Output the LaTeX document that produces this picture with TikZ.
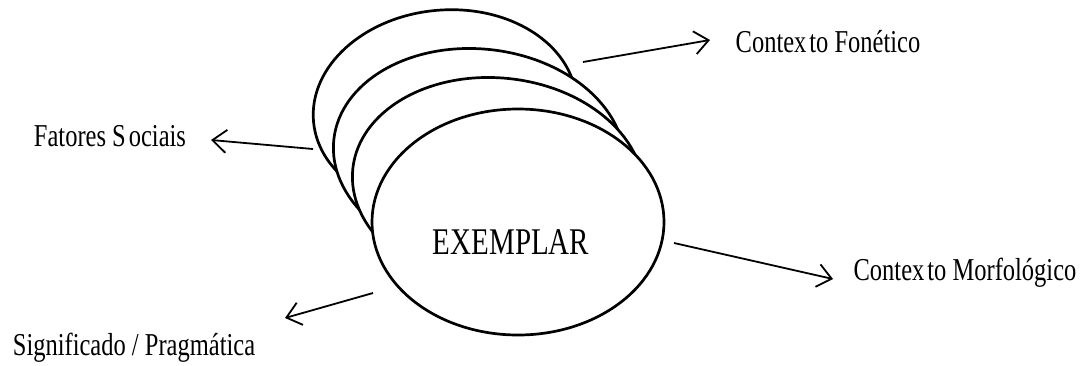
\documentclass[tikz,border=0pt]{standalone}
\usepackage{fontspec}
\setmainfont{Liberation Serif}
\usetikzlibrary{shapes.geometric,arrows.meta}
\tikzset{
  layer/.style={draw=black, fill=white, ellipse, line width=2.7pt, inner sep=0pt},
  lbl/.style={inner sep=0pt, font=\fontsize{24.5pt}{28pt}\selectfont},
  arr/.style={line width=1.8pt, -{Straight Barb[length=14pt,width=23pt,line width=1.8pt]}}
}
\newcommand{\tall}[1]{\scalebox{1}[1.3]{#1}}
\begin{document}
\begin{tikzpicture}[x=1pt,y=-1pt]
\useasboundingbox (0,0) rectangle (1086,365);
\node[layer, minimum width=264pt, minimum height=200pt, rotate=5] (e1) at (445,110) {};
\node[layer, minimum width=292pt, minimum height=212pt, rotate=-6] (e2) at (479,155) {};
\node[layer, minimum width=292pt, minimum height=212pt, rotate=-6] (e3) at (498,184) {};
\node[layer, minimum width=292pt, minimum height=226pt] (e4) at (518,222) {};
\node[inner sep=0pt, font=\fontsize{29pt}{32pt}\selectfont] (ex) at (511,242) {\tall{EXEMPLAR}};
\node[lbl] (fs) at (110,136) {\tall{Fatores S\kern3pt ociais}};
\node[lbl] (sp) at (134,348) {\tall{Significado / Pragmática}};
\node[lbl] (cf) at (828,42) {\tall{Contex\kern3pt to Fonético}};
\node[lbl] (cm) at (965,273) {\tall{Contex\kern3pt to Morfológico}};
\coordinate (fs-s) at (313,149); \coordinate (fs-t) at (211,140);
\coordinate (sp-s) at (373,293); \coordinate (sp-t) at (285,318);
\coordinate (cf-s) at (583,62);  \coordinate (cf-t) at (710,40);
\coordinate (cm-s) at (674,243); \coordinate (cm-t) at (833,279);
\draw[arr] (fs-s) -- (fs-t);
\draw[arr] (sp-s) -- (sp-t);
\draw[arr] (cf-s) -- (cf-t);
\draw[arr] (cm-s) -- (cm-t);
\end{tikzpicture}
\end{document}
